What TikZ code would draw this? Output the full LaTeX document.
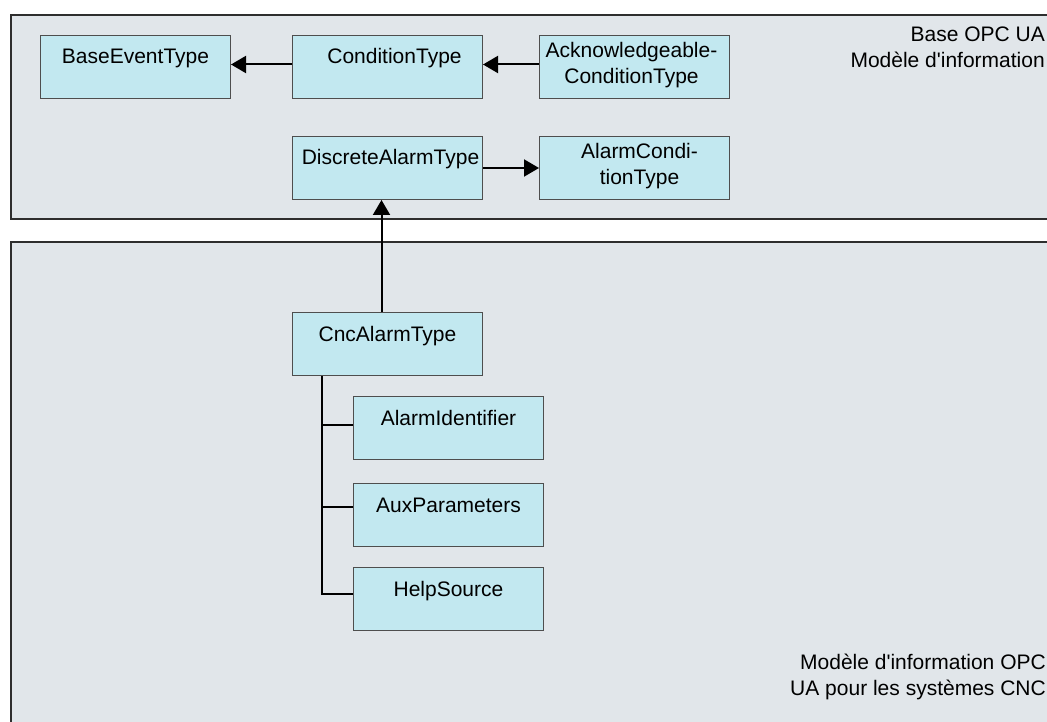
\documentclass[tikz,border=0pt]{standalone}
\usepackage{fontspec}
\newfontfamily\arialf{Liberation Sans}
\usetikzlibrary{arrows.meta}
\definecolor{panelfill}{HTML}{E1E6EA}
\definecolor{panelline}{HTML}{2E2E2E}
\definecolor{boxfill}{HTML}{C2E8F0}
\definecolor{boxline}{HTML}{4E4E4E}
\begin{document}
\begin{tikzpicture}[x=1pt,y=-1pt,
  panel/.style={draw=panelline, fill=panelfill, line width=2pt},
  tbox/.style={draw=boxline, fill=boxfill, line width=1pt, minimum width=190pt,
    minimum height=63pt, inner sep=0pt, anchor=north west},
  txt/.style={font=\arialf\fontsize{21}{26}\selectfont, inner sep=0pt, text=black},
  lbl/.style={txt, anchor=base, yshift=-29pt},
  lbltwo/.style={txt, anchor=base, yshift=-23pt},
  conn/.style={line width=2pt, black},
  arr/.style={conn, -{Triangle[length=15pt,width=17pt]}}
]
\useasboundingbox (0,0) rectangle (1047,722);
\clip (0,0) rectangle (1047,722);
% panels
\draw[panel] (11,15) rectangle (1065,219);
\draw[panel] (11,242) rectangle (1065,745);
\node[txt, anchor=base east] (toplabel) at (1045,42)
  {\begin{tabular}[t]{@{}r@{}}Base OPC UA\\Modèle d'information\end{tabular}};
\node[txt, anchor=base east] (botlabel) at (1046,669)
  {\begin{tabular}[t]{@{}r@{}}Modèle d'information OPC\\UA pour les systèmes CNC\end{tabular}};
% boxes
\node[tbox, label={[lbl]north:BaseEventType}] (base) at (40,35) {};
\node[tbox, label={[lbl, xshift=7pt]north:ConditionType}] (cond) at (292,35) {};
\node[tbox, label={[lbltwo, xshift=-3pt]north:{\begin{tabular}[t]{@{}c@{}}Acknowledgeable-\\ConditionType\end{tabular}}}] (ack) at (539,35) {};
\node[tbox, label={[lbl, xshift=3pt]north:DiscreteAlarmType}] (disc) at (292,136) {};
\node[tbox, label={[lbltwo, xshift=5pt]north:{\begin{tabular}[t]{@{}c@{}}AlarmCondi-\\tionType\end{tabular}}}] (alcond) at (539,136) {};
\node[tbox, label={[lbl]north:CncAlarmType}] (cnc) at (292,312) {};
\node[tbox, label={[lbl]north:AlarmIdentifier}] (aid) at (353,396) {};
\node[tbox, label={[lbl]north:AuxParameters}] (aux) at (353,483) {};
\node[tbox, label={[lbl]north:HelpSource}] (help) at (353,567) {};
% connectors
\draw[arr] ([yshift=2.5pt]cond.west) -- ([yshift=2.5pt]base.east);
\draw[arr] ([yshift=2.5pt]ack.west) -- ([yshift=2.5pt]cond.east);
\draw[arr] (disc.east) -- (alcond.west);
\draw[arr] ([xshift=-6pt]cnc.north) -- ([xshift=-6pt]disc.south);
\coordinate (trunk) at ([xshift=30pt]cnc.south west);
\coordinate (b1) at ([yshift=3.5pt]aid.west);
\coordinate (b2) at ([yshift=8.5pt]aux.west);
\coordinate (b3) at ([yshift=5.5pt]help.west);
\draw[conn] (trunk) |- (b3);
\draw[conn] (trunk |- b1) -- (b1);
\draw[conn] (trunk |- b2) -- (b2);
\end{tikzpicture}
\end{document}
